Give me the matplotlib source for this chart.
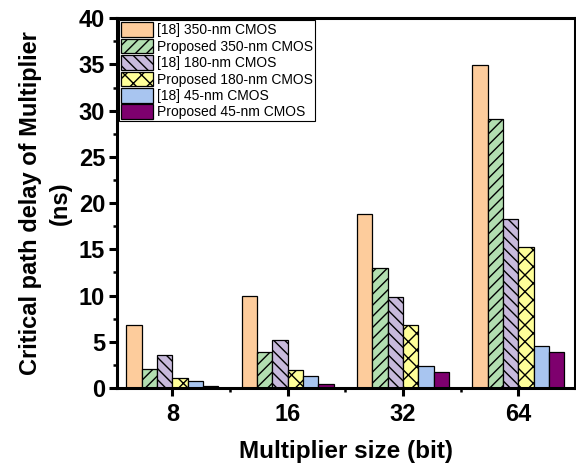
import numpy as np
import matplotlib
matplotlib.use("Agg")
import matplotlib.pyplot as plt

plt.rcParams['font.family'] = ['Liberation Sans', 'DejaVu Sans']

sizes = ['8', '16', '32', '64']
labels = ['[18] 350-nm CMOS', 'Proposed 350-nm CMOS', '[18] 180-nm CMOS',
          'Proposed 180-nm CMOS', '[18] 45-nm CMOS', 'Proposed 45-nm CMOS']
ref350 = [6.8, 10.0, 18.8, 34.9]
prop350 = [2.1, 3.9, 13.0, 29.1]
ref180 = [3.6, 5.2, 9.9, 18.3]
prop180 = [1.1, 2.0, 6.8, 15.3]
ref45 = [0.8, 1.3, 2.4, 4.6]
prop45 = [0.2, 0.4, 1.7, 3.9]

series = [ref350, prop350, ref180, prop180, ref45, prop45]
colors = ['#FDCC9C', '#B2DEB0', '#C8BADC', '#FFFF99', '#A8C5F0', '#7E006E']
hatches = ['', '///', '\\\\\\', 'xx', '', '']

fig = plt.figure(figsize=(5.76, 4.67), dpi=100)
ax = fig.add_axes([0.2031, 0.169, 0.795, 0.792])

x = np.arange(1, len(sizes) + 1)
w = 0.133
for i, (vals, c, h, lab) in enumerate(zip(series, colors, hatches, labels)):
    ax.bar(x + (i - 2.5) * w, vals, w, color=c, edgecolor='black',
           linewidth=0.9, hatch=h, label=lab)

ax.set_xlim(0.52, 4.49)
ax.set_ylim(0, 40)
ax.set_xticks(x)
ax.set_xticklabels(sizes)
ax.set_xticks([1.5, 2.5, 3.5], minor=True)
ax.set_yticks(np.arange(0, 41, 5))
ax.set_yticks(np.arange(2.5, 40, 5), minor=True)

for s in ax.spines.values():
    s.set_linewidth(2.2)
ax.tick_params(which='major', direction='out', length=5.5, width=2.2,
               labelsize=17)
ax.tick_params(axis='y', which='major', pad=3)
ax.tick_params(axis='x', which='major', pad=5)
ax.tick_params(which='minor', direction='out', length=3, width=1.8)
for t in ax.get_xticklabels() + ax.get_yticklabels():
    t.set_fontweight('bold')

ax.set_xlabel('Multiplier size (bit)', fontsize=17.5, fontweight='bold',
              labelpad=10)
ax.set_ylabel('Critical path delay of Multiplier\n(ns)', fontsize=17,
              fontweight='bold', labelpad=5, linespacing=1.4)

leg = ax.legend(loc='upper left', fontsize=10, frameon=True, fancybox=False,
                edgecolor='black', framealpha=1, borderpad=0.15,
                labelspacing=0.1, handlelength=2.3, handleheight=1.25,
                handletextpad=0.25, borderaxespad=0.15)
leg.get_frame().set_linewidth(0.8)

fig.savefig('out.png', dpi=100)
